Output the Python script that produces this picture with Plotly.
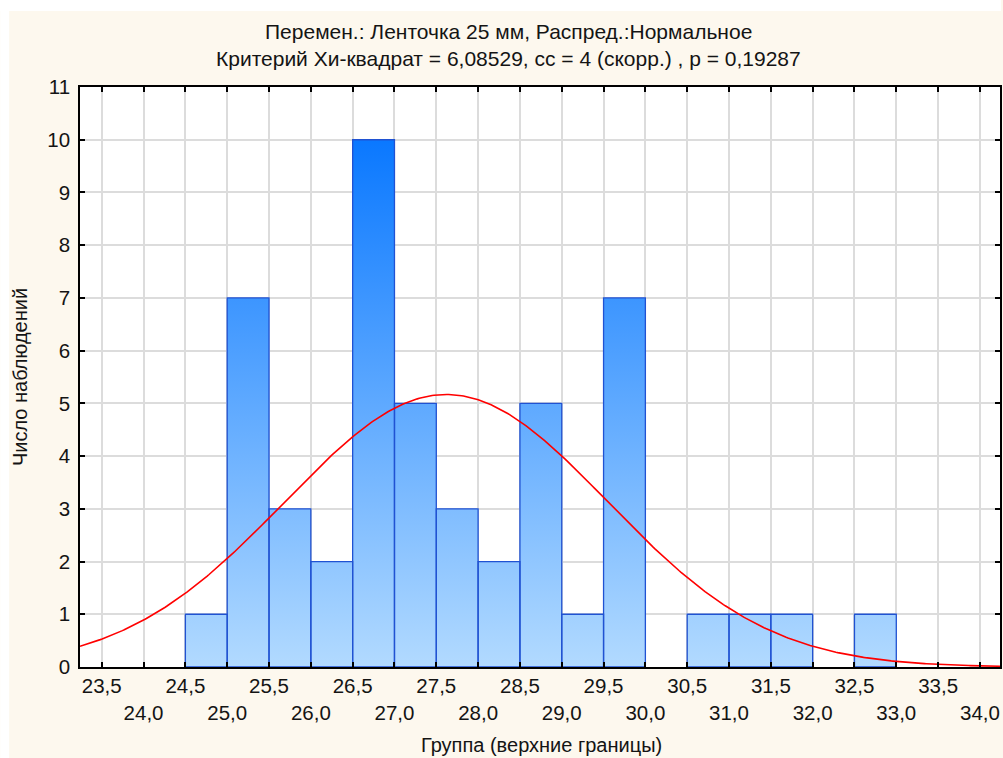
import numpy as np
import plotly.graph_objects as go

# Histogram: upper bin boundaries and observation counts (bin width 0.5)
BIN_UPPER = [25.0, 25.5, 26.0, 26.5, 27.0, 27.5, 28.0, 28.5, 29.0,
             29.5, 30.0, 30.5, 31.0, 31.5, 32.0, 32.5, 33.0]
COUNTS = [1, 7, 3, 2, 10, 5, 3, 2, 5, 1, 7, 0, 1, 1, 1, 0, 1]
BIN_WIDTH = 0.5

# Fitted normal distribution parameters
FIT_MEAN = 27.62
FIT_SD = 1.93

X_TICKS = [23.5, 24.0, 24.5, 25.0, 25.5, 26.0, 26.5, 27.0, 27.5, 28.0, 28.5,
           29.0, 29.5, 30.0, 30.5, 31.0, 31.5, 32.0, 32.5, 33.0, 33.5, 34.0]
Y_TICKS = list(range(0, 12))

TITLE_1 = "Перемен.: Ленточка 25 мм, Распред.:Нормальное"
TITLE_2 = "Критерий Хи-квадрат = 6,08529, сс = 4 (скорр.) , p = 0,19287"
X_TITLE = "Группа (верхние границы)"
Y_TITLE = "Число наблюдений"

W, H = 1003, 758
M_L, M_R, M_T, M_B = 80, 1, 87, 91
X_RANGE = [23.24, 34.24]
FONT = "Liberation Sans, Arial, sans-serif"
CREAM = "#fdf8ee"
TEXT = "#141414"

# Bars as closed outlines so they can share one vertical gradient
bx, by = [], []
for up, c in zip(BIN_UPPER, COUNTS):
    if c == 0:
        continue
    lo = up - BIN_WIDTH
    bx += [lo, lo, up, up, lo, None]
    by += [0, c, c, 0, 0, None]

n_total = sum(COUNTS)
cx = np.linspace(X_RANGE[0], X_RANGE[1], 500)
cy = n_total * BIN_WIDTH / (FIT_SD * np.sqrt(2 * np.pi)) * np.exp(-0.5 * ((cx - FIT_MEAN) / FIT_SD) ** 2)

fig = go.Figure()
fig.add_trace(go.Scatter(
    x=bx, y=by, mode="lines", fill="toself",
    fillgradient=dict(type="vertical", start=0, stop=10,
                      colorscale=[[0, "#b2daff"], [1, "#0a78ff"]]),
    line=dict(color="#2052d2", width=1.3),
    hoverinfo="skip", showlegend=False,
))
fig.add_trace(go.Scatter(
    x=cx, y=cy, mode="lines",
    line=dict(color="#ff0000", width=1.6),
    showlegend=False,
))

def fmt(v):
    return f"{v:.1f}".replace(".", ",")

x_text = [fmt(v) if i % 2 == 0 else "<br>" + fmt(v) for i, v in enumerate(X_TICKS)]

TICK_SIZE = 20.5

axis_common = dict(
    showline=True, linecolor="black", linewidth=1.6, mirror="ticks",
    ticks="inside", ticklen=5, tickwidth=1.5, tickcolor="black",
    showgrid=True, gridcolor="#dcdcdc", gridwidth=1.5,
    zeroline=False, tickfont=dict(family=FONT, size=TICK_SIZE, color=TEXT),
    tickangle=0,
)

fig.update_xaxes(range=X_RANGE, tickmode="array", tickvals=X_TICKS,
                 ticktext=x_text, **axis_common)
fig.update_yaxes(range=[0, 11], tickmode="array", tickvals=Y_TICKS,
                 ticktext=[str(v) for v in Y_TICKS], ticklabelstandoff=4,
                 title=dict(text=Y_TITLE, font=dict(family=FONT, size=20, color=TEXT),
                            standoff=14),
                 **axis_common)

pw = W - M_L - M_R
ph = H - M_T - M_B

def px(x):
    return (x - M_L) / pw

def py(y):
    return (H - M_B - y) / ph

annotations = [
    dict(text=TITLE_1, x=px(509), y=py(31), size=21),
    dict(text=TITLE_2, x=px(509), y=py(59), size=21),
    dict(text=X_TITLE, x=px(543), y=py(745), size=20),
]
for a in annotations:
    size = a.pop("size")
    a.update(xref="paper", yref="paper", xanchor="center", yanchor="middle",
             showarrow=False, font=dict(family=FONT, size=size, color=TEXT))

shapes = [
    dict(type="rect", xref="paper", yref="paper", x0=px(0), x1=px(W), y0=py(11), y1=py(0),
         fillcolor="white", line=dict(width=0), layer="above"),
    dict(type="rect", xref="paper", yref="paper", x0=px(0), x1=px(9), y0=py(H), y1=py(0),
         fillcolor="white", line=dict(width=0), layer="above"),
]

fig.update_layout(
    width=W, height=H,
    margin=dict(l=M_L, r=M_R, t=M_T, b=M_B, pad=0),
    paper_bgcolor=CREAM, plot_bgcolor="white",
    font=dict(family=FONT, color=TEXT),
    annotations=annotations, shapes=shapes,
    showlegend=False,
)

fig.write_html("out.html")
